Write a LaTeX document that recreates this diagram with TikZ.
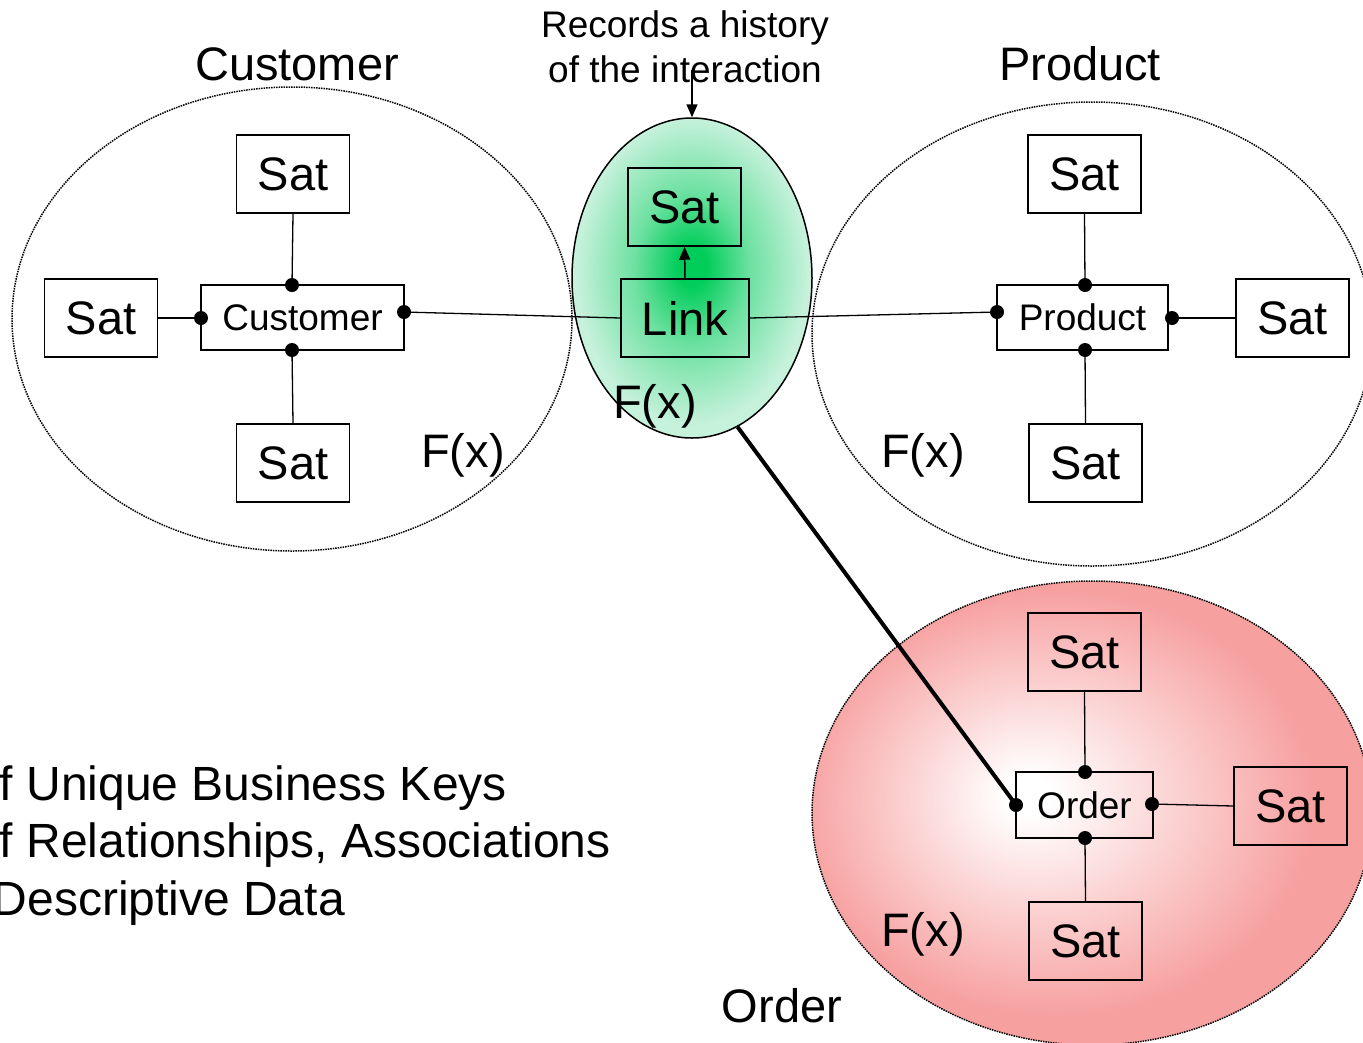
\documentclass[tikz,border=0pt]{standalone}
\usepackage{fontspec}
\setmainfont{Liberation Sans}
\usetikzlibrary{shapes.geometric,arrows.meta}
\definecolor{glowgreen}{RGB}{0,205,90}
\definecolor{mint}{RGB}{198,241,219}
\definecolor{blush}{RGB}{247,160,160}
% green glow for the link, white-to-pink glow for the order
\pgfdeclareradialshading{linkglow}{\pgfpoint{0bp}{2bp}}{color(0bp)=(glowgreen); color(3bp)=(glowgreen); color(12bp)=(glowgreen!45!mint); color(24bp)=(mint); color(50bp)=(mint)}
\pgfdeclareradialshading{orderglow}{\pgfpoint{-6bp}{2bp}}{color(0bp)=(white); color(2bp)=(white); color(23bp)=(blush); color(50bp)=(blush)}
\begin{document}
\begin{tikzpicture}[x=1pt,y=-1pt,
  sat/.style={draw,line width=1.5pt,minimum width=113pt,minimum height=78pt,inner sep=0pt,font=\fontsize{47}{50}\selectfont},
  hub/.style={draw,line width=1.5pt,minimum height=65pt,inner sep=0pt,font=\fontsize{37}{40}\selectfont},
  big/.style={font=\fontsize{47}{50}\selectfont,inner sep=0pt,anchor=base},
  note/.style={font=\fontsize{37}{40}\selectfont,inner sep=0pt,anchor=base},
  realm/.style={ellipse,inner sep=0pt,minimum width=560pt,minimum height=464pt,draw,line width=1.5pt,densely dotted},
  wire/.style={line width=1.3pt},
  tip/.style={line width=1.5pt,-{Triangle[width=11pt,length=13pt]}}]
\clip (0,0) rectangle (1363,1042);
\fill[white] (0,0) rectangle (1363,1042);

% realms
\node[realm] (custrealm) at (292,319) {};
\node[realm] (prodrealm) at (1092,334) {};
\node[realm,shade,shading=orderglow] (ordrealm) at (1092,813) {};
\node[ellipse,draw,line width=1.5pt,shade,shading=linkglow,inner sep=0pt,minimum width=240pt,minimum height=320pt] (linkrealm) at (692,278) {};

% customer
\node[sat] (cst) at (293,174) {Sat};
\node[sat] (csl) at (101,318) {Sat};
\node[sat] (csb) at (293,463) {Sat};
\node[hub,minimum width=203pt] (cust) at (302.5,317.5) {Customer};
\coordinate (cdT) at (292,285);
\coordinate (cdL) at (201,318);
\coordinate (cdR) at (404,312);
\coordinate (cdB) at (292,350);

% link
\node[sat] (lsat) at (684.5,207) {Sat};
\node[sat,minimum width=128pt] (lnk) at (685,318) {Link};

% product
\node[sat] (pst) at (1084.5,174) {Sat};
\node[hub,minimum width=171pt] (prod) at (1082.5,317.5) {Product};
\node[sat] (psr) at (1292.5,318) {Sat};
\node[sat] (psb) at (1085.5,463) {Sat};
\coordinate (pdT) at (1085,285);
\coordinate (pdL) at (997,312);
\coordinate (pdR) at (1172,318);
\coordinate (pdB) at (1085,350);

% order
\node[sat] (ost) at (1084.5,652) {Sat};
\node[hub,minimum width=137pt,minimum height=66pt] (ord) at (1084.5,805) {Order};
\node[sat] (osr) at (1290.5,806) {Sat};
\node[sat] (osb) at (1085.5,941) {Sat};
\coordinate (odT) at (1085,772);
\coordinate (odL) at (1016,805);
\coordinate (odR) at (1152,804);
\coordinate (odB) at (1085,838);

% connectors
\draw[wire] (cst.south) -- (cdT);
\draw[wire] (csl.east) -- (cdL);
\draw[wire] (csb.north) -- (cdB);
\draw[wire] (cdR) -- (lnk.west);
\draw[wire] (lnk.east) -- (pdL);
\draw[wire] (pst.south) -- (pdT);
\draw[wire] (pdR) -- (psr.west);
\draw[wire] (psb.north) -- (pdB);
\draw[wire] (ost.south) -- (odT);
\draw[wire] (odR) -- (osr.west);
\draw[wire] (osb.north) -- (odB);
\draw[line width=4pt] (linkrealm.-73) -- (odL);
\draw[tip] (lnk.north) -- (lsat.south);

% attachment dots
\foreach \p in {cdT,cdL,cdR,cdB,pdT,pdL,pdR,pdB,odT,odL,odR,odB}
  \fill (\p) circle[radius=7pt];

% titles and labels
\node[big] (custtitle) at (297,80) {Customer};
\node[big] (prodtitle) at (1080,80) {Product};
\node[big] (ordtitle) at (782,1022) {Order};
\node[big,anchor=base west] (custfx) at (421,467) {F(x)};
\node[big,anchor=base west] (prodfx) at (881,467) {F(x)};
\node[big,anchor=base west] (ordfx) at (881,946) {F(x)};
\node[big,anchor=base west] (linkfx) at (613,418) {F(x)};

\node[note] (rec1) at (685,37) {Records a history};
\node[note] (rec2) at (685,82) {of the interaction};
\coordinate (recfoot) at (692,70);
\draw[tip] (recfoot) -- (linkrealm.north);

\node[big,font=\fontsize{48}{50}\selectfont,anchor=base east] (key1) at (507,800) {f Unique Business Keys};
\node[big,font=\fontsize{48}{50}\selectfont,anchor=base east] (key2) at (611,857) {f Relationships, Associations};
\node[big,font=\fontsize{48}{50}\selectfont,anchor=base east] (key3) at (345,915) {Descriptive Data};
\end{tikzpicture}
\end{document}
